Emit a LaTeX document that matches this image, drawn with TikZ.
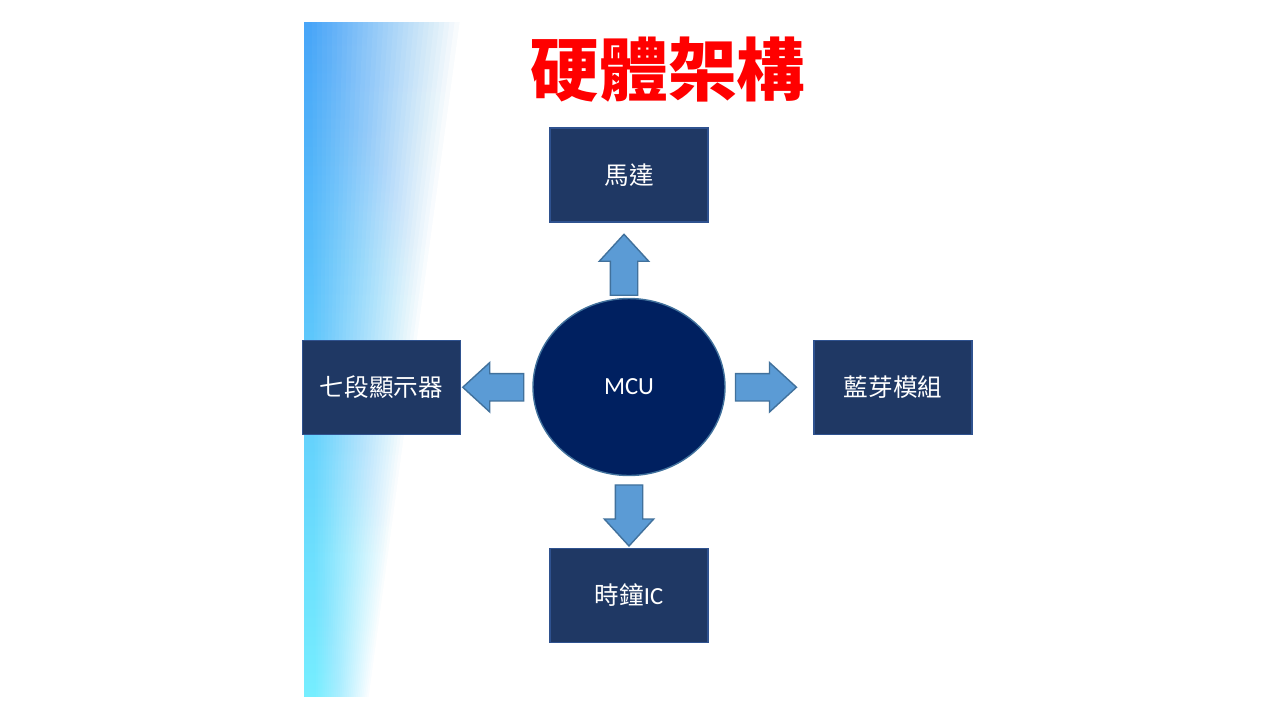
\documentclass[tikz,border=0pt]{standalone}
\usepackage{fontspec}
\setmainfont{Carlito}
\newfontfamily\cjk{Noto Sans CJK TC}
\usetikzlibrary{shapes.geometric,shapes.arrows,calc}
\definecolor{marine}{HTML}{1F3864}
\definecolor{bordmarine}{HTML}{2F528F}
\definecolor{noyau}{HTML}{002060}
\definecolor{bleufleche}{HTML}{5B9BD5}
\definecolor{bordfleche}{HTML}{41719C}
\definecolor{ciel}{RGB}{72,165,248}
\definecolor{cyan2}{RGB}{118,238,255}
\begin{document}
\begin{tikzpicture}[x=0.1mm, y=-0.1mm]
\tikzstyle{boite}=[rectangle,draw=bordmarine,fill=marine,text=white,minimum width=15.8mm,minimum height=9.4mm,font=\fontsize{7}{8}\selectfont]
\tikzstyle{fleche}=[single arrow,draw=bordfleche,fill=bleufleche,inner xsep=0pt,inner ysep=1.3mm,single arrow head extend=1.1mm,single arrow tip angle=85,minimum height=6.1mm]
\useasboundingbox (0,0) rectangle (1280,720);
\fill[white] (0,0) rectangle (1280,720);
% bande degradee a gauche
\begin{scope}
\clip (304,22) rectangle (520,696);
\shade[top color=ciel, bottom color=cyan2] (304,22) rectangle (470,696);
\foreach \i in {0,...,29}{
  \pgfmathsetmacro\ta{312+153*\i/30}
  \pgfmathsetmacro\ba{316+54*\i/30}
  \pgfmathsetmacro\op{1/(30-\i)}
  \fill[white, opacity=\op] (\ta,20) -- (520,20) -- (520,700) -- (\ba,700) -- cycle;
}
\fill[white] (465,20) -- (520,20) -- (520,700) -- (370,700) -- cycle;
\end{scope}
% titre
\node[text=red, font=\cjk\bfseries\fontsize{19.5}{20}\selectfont](titre) at (668,70) {硬體架構};
% blocs
\node[ellipse,draw=bordfleche,fill=noyau,text=white,minimum width=19.2mm,minimum height=17.7mm,font=\fontsize{7}{8}\selectfont](mcu) at (629,387) {MCU};
\node[boite](moteur) at (629,175) {\cjk 馬達};
\node[boite](afficheur) at (381.5,387.5) {\cjk 七段顯示器};
\node[boite](bluetooth) at (893,387.5) {\cjk 藍芽模組};
\node[boite](horloge) at (629,595.5) {{\cjk 時鐘}IC};
% fleches
\node[fleche, rotate=90](fh) at ($(mcu.north)!0.5!(moteur.south)+(-5,12)$) {};
\node[fleche, rotate=180](fg) at ($(mcu.west)!0.5!(afficheur.east)+(4,0)$) {};
\node[fleche](fd) at ($(mcu.east)!0.5!(bluetooth.west)+(-11,0)$) {};
\node[fleche, rotate=-90](fb) at ($(mcu.south)!0.5!(horloge.north)+(0,-4)$) {};
\end{tikzpicture}
\end{document}
